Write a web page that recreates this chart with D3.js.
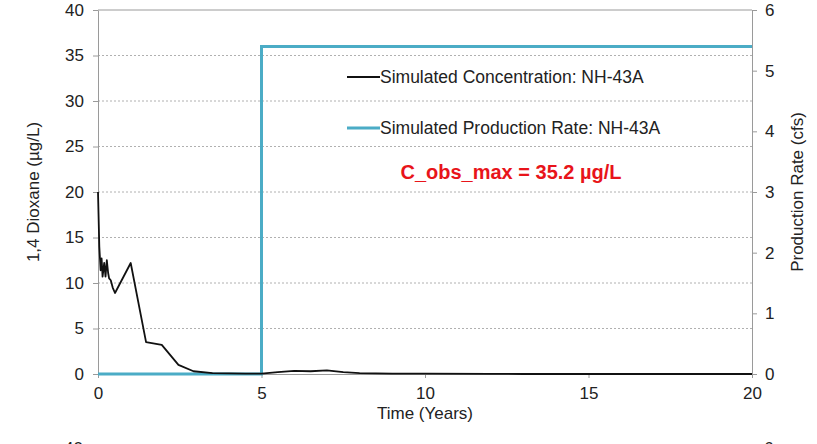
<!DOCTYPE html>
<meta charset="utf-8">
<script src="https://d3js.org/d3.v7.min.js"></script>
<style>
  body { margin: 0; background: #fff; }
  text { font-family: "Liberation Sans", Arial, sans-serif; }
</style>
<div id="chart"></div>
<script>

// simulated concentration (years, ug/L)
var concTime = [0, 0.04, 0.08, 0.11, 0.14, 0.19, 0.23, 0.27, 0.31, 0.34, 0.39, 0.45, 0.52, 1.0, 1.47, 1.95, 2.46, 2.92, 3.5, 4.5, 5.0, 5.5, 6.0, 6.5, 7.0, 7.5, 8.0, 9.0, 10.0, 12.0, 13.0, 20.0];
var concValue = [20.0, 14.0, 11.4, 12.7, 10.7, 12.2, 10.7, 12.5, 11.1, 10.5, 10.3, 9.5, 8.9, 12.2, 3.5, 3.2, 1.0, 0.3, 0.1, 0.05, 0.05, 0.2, 0.35, 0.3, 0.4, 0.2, 0.1, 0.05, 0.05, 0.02, 0, 0];

// simulated production rate (years, cfs)
var rateTime = [0, 5, 5, 20];
var rateValue = [0, 0, 5.4, 5.4];

var xTicks = [0, 5, 10, 15, 20];
var leftTicks = [0, 5, 10, 15, 20, 25, 30, 35, 40];
var rightTicks = [0, 1, 2, 3, 4, 5, 6];
var legendLabels = ["Simulated Concentration: NH-43A", "Simulated Production Rate: NH-43A"];
var noteText = "C_obs_max = 35.2 \u00b5g/L";

var W = 817, H = 444;
var margin = {top: 10, right: 65, bottom: 70, left: 98},
    width = 752 - margin.left,
    height = 374 - margin.top;

var svg = d3.select("#chart").append("svg")
    .attr("width", W).attr("height", H);

var g = svg.append("g")
    .attr("transform", "translate(" + margin.left + "," + margin.top + ")");

var x = d3.scaleLinear().domain([0, 20]).range([0, width]);
var yL = d3.scaleLinear().domain([0, 40]).range([height, 0]);
var yR = d3.scaleLinear().domain([0, 6]).range([height, 0]);

// gridlines
g.selectAll(".grid")
  .data(leftTicks.filter(function(d) { return d > 0 && d < 40; }))
  .enter().append("line")
    .attr("x1", 0).attr("x2", width)
    .attr("y1", function(d) { return yL(d); })
    .attr("y2", function(d) { return yL(d); })
    .attr("stroke", "#b0b0b0")
    .attr("stroke-dasharray", "2,2");

// top border
g.append("line")
  .attr("x1", 0).attr("x2", width)
  .attr("y1", 0).attr("y2", 0)
  .attr("stroke", "#9a9a9a");

function styleAxis(sel) {
  sel.select(".domain").attr("stroke", "#9a9a9a");
  sel.selectAll(".tick line").attr("stroke", "#9a9a9a");
  sel.selectAll(".tick text").attr("fill", "#222").style("font-size", "17px");
}

g.append("g")
  .call(d3.axisLeft(yL).tickValues(leftTicks).tickSize(5).tickPadding(9).tickSizeOuter(0))
  .call(styleAxis);

g.append("g")
  .attr("transform", "translate(" + width + ",0)")
  .call(d3.axisRight(yR).tickValues(rightTicks).tickFormat(d3.format("d"))
    .tickSize(5).tickPadding(8).tickSizeOuter(0))
  .call(styleAxis);

g.append("g")
  .attr("transform", "translate(0," + height + ")")
  .call(d3.axisBottom(x).tickValues(xTicks).tickSize(4).tickPadding(9).tickSizeOuter(0))
  .call(styleAxis);

// lines
var rateLine = d3.line()
  .x(function(d, i) { return x(rateTime[i]); })
  .y(function(d) { return yR(d); });
var concLine = d3.line()
  .x(function(d, i) { return x(concTime[i]); })
  .y(function(d) { return yL(d); });

g.append("path")
  .attr("d", rateLine(rateValue))
  .attr("fill", "none")
  .attr("stroke", "#4bacc6")
  .attr("stroke-width", 3);

g.append("path")
  .attr("d", concLine(concValue))
  .attr("fill", "none")
  .attr("stroke", "#111")
  .attr("stroke-width", 1.8)
  .attr("stroke-linejoin", "round");

// legend
var legColors = ["#111", "#4bacc6"];
var legWidths = [1.8, 3];
var leg = svg.selectAll(".leg")
  .data(legendLabels)
  .enter().append("g")
    .attr("transform", function(d, i) { return "translate(347," + (77 + i * 51) + ")"; });
leg.append("line")
  .attr("x1", 0).attr("x2", 33)
  .attr("stroke", function(d, i) { return legColors[i]; })
  .attr("stroke-width", function(d, i) { return legWidths[i]; });
leg.append("text")
  .attr("x", 33).attr("y", 6)
  .style("font-size", "17.5px")
  .attr("fill", "#222")
  .text(function(d) { return d; });

svg.append("text")
  .attr("x", 511).attr("y", 179)
  .attr("text-anchor", "middle")
  .style("font-size", "20px")
  .style("font-weight", "bold")
  .attr("fill", "#e8141a")
  .text(noteText);

// axis titles
svg.append("text")
  .attr("transform", "translate(39,192) rotate(-90)")
  .attr("text-anchor", "middle")
  .style("font-size", "17px")
  .attr("fill", "#222")
  .text("1,4 Dioxane (\u00b5g/L)");

svg.append("text")
  .attr("transform", "translate(803,192) rotate(-90)")
  .attr("text-anchor", "middle")
  .style("font-size", "17px")
  .attr("fill", "#222")
  .text("Production Rate (cfs)");

svg.append("text")
  .attr("x", 425).attr("y", 419)
  .attr("text-anchor", "middle")
  .style("font-size", "17px")
  .attr("fill", "#222")
  .text("Time (Years)");

// top of the next chart, cut off by the frame
svg.append("text")
  .attr("x", 83).attr("y", 454)
  .attr("text-anchor", "end")
  .style("font-size", "17px")
  .attr("fill", "#222")
  .text("40");
svg.append("text")
  .attr("x", 764).attr("y", 454)
  .style("font-size", "17px")
  .attr("fill", "#222")
  .text("6");

</script>
